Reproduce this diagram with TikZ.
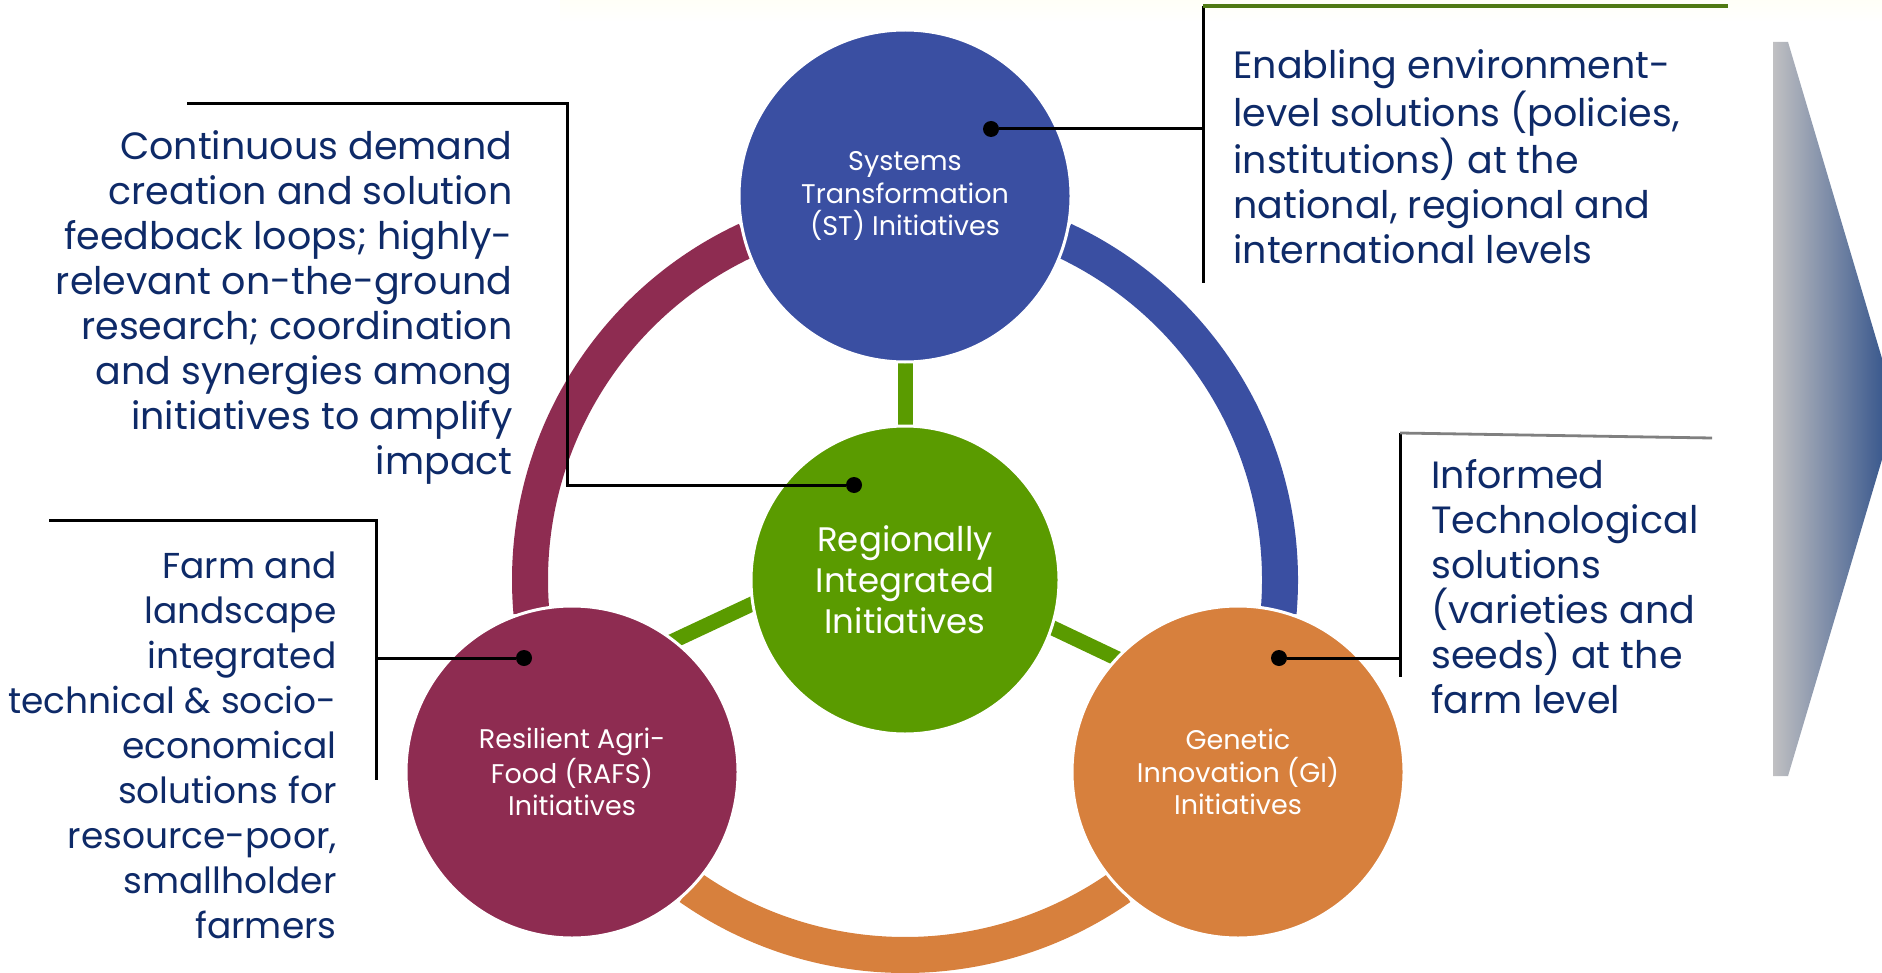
\documentclass[tikz,border=0pt]{standalone}
\usepackage{fontspec}
\setmainfont{Poppins}
\usepackage{xcolor}
\usetikzlibrary{backgrounds}
\usetikzlibrary{shapes.geometric, arrows}
\definecolor{stblue}{RGB}{58,79,162}
\definecolor{rigreen}{RGB}{90,155,0}
\definecolor{rafsred}{RGB}{142,44,81}
\definecolor{giorange}{RGB}{215,128,61}
\definecolor{navy}{RGB}{14,42,104}
\definecolor{olive}{RGB}{80,122,20}
\definecolor{arrowgrey}{RGB}{192,192,194}
\definecolor{arrowblue}{RGB}{42,76,135}
\tikzstyle{blob} = [circle, minimum size=166pt, inner sep=0pt, draw=white, line width=1.5pt, text=white, align=center, font=\fontsize{13.5}{16.2}\selectfont]
\tikzstyle{note} = [inner sep=0pt, text=navy, font=\fontsize{19}{22.5}\selectfont]
\tikzstyle{pin} = [circle, fill=black, minimum size=8pt, inner sep=0pt]
\tikzstyle{callout} = [line width=1.5pt, black]
\tikzstyle{ring} = [line width=18pt]
\tikzstyle{spoke} = [rigreen, line width=7.5pt, shorten <=-6pt, shorten >=-6pt]

\begin{document}
\begin{tikzpicture}[x=0.5pt, y=-0.5pt]
	\useasboundingbox (0,0) rectangle (1882,973);
	%faint band at the top
	\shade[top color=yellow!3, bottom color=white] (560,0) rectangle (1882,22);

	%circles
	\node[blob, fill=rigreen, minimum size=154pt, font=\fontsize{17}{20.5}\selectfont] (ri) at (905,580) {Regionally\\Integrated\\Initiatives};
	\node[blob, fill=stblue] (st) at (905,196) {Systems\\Transformation\\(ST) Initiatives};
	\node[blob, fill=rafsred] (rafs) at (572,772) {Resilient Agri-\\Food (RAFS)\\Initiatives};
	\node[blob, fill=giorange] (gi) at (1238,772) {Genetic\\Innovation (GI)\\Initiatives};

	%ring and spokes
	\begin{scope}[on background layer]
		\draw[ring, rafsred] (ri.center) ++(175:375) arc[start angle=175, end angle=245, radius=375];
		\draw[ring, stblue] (ri.center) ++(-65:375) arc[start angle=-65, end angle=5, radius=375];
		\draw[ring, giorange] (ri.center) ++(55:375) arc[start angle=55, end angle=125, radius=375];
		\draw[spoke] (ri.north) -- (st.south);
		\draw[spoke] (ri.189) -- (rafs.52);
		\draw[spoke] (ri.342) -- (gi.137);
	\end{scope}

	%ST callout
	\node[pin] (stpin) at (991,129) {};
	\coordinate (sttop) at (1203,6);
	\coordinate (stbot) at (1203,283);
	\coordinate (stend) at (1728,6);
	\draw[callout] (stpin) -- (stpin -| sttop);
	\draw[callout] (sttop) -- (stbot);
	\draw[olive, line width=1.6pt] (sttop) -- (stend);
	\node[note, anchor=north west, align=left] (sttext) at (1233,49) {Enabling environment-\\level solutions (policies,\\institutions) at the\\national, regional and\\international levels};

	%RI callout
	\node[pin] (ripin) at (854,485) {};
	\coordinate (ricorner) at (567,485);
	\coordinate (ritop) at (567,104);
	\coordinate (riend) at (187,104);
	\draw[callout] (ripin) -- (ricorner) -- (ritop) -- (riend);
	\node[note, anchor=north east, align=right] (ritext) at (513,130) {Continuous demand\\creation and solution\\feedback loops; highly-\\relevant on-the-ground\\research; coordination\\and synergies among\\initiatives to amplify\\impact};

	%RAFS callout
	\node[pin] (rafspin) at (524,658) {};
	\coordinate (rafsend) at (49,520);
	\coordinate (rafstop) at (376,520);
	\coordinate (rafsbot) at (376,780);
	\draw[callout] (rafsend) -- (rafstop) -- (rafsbot);
	\draw[callout] (rafspin) -- (rafspin -| rafstop);
	\node[note, anchor=north east, align=right, font=\fontsize{18}{22.5}\selectfont] (rafstext) at (337,551) {Farm and\\landscape\\integrated\\technical \& socio-\\economical\\solutions for\\resource-poor,\\smallholder\\farmers};

	%GI callout
	\node[pin] (gipin) at (1279,658) {};
	\coordinate (gitop) at (1400,433);
	\coordinate (gibot) at (1400,677);
	\coordinate (giend) at (1712,438);
	\draw[callout] (gipin) -- (gipin -| gitop);
	\draw[callout] (gitop) -- (gibot);
	\draw[gray, line width=1.4pt] (gitop) -- (giend);
	\node[note, anchor=north west, align=left] (gitext) at (1431,459) {Informed\\Technological\\solutions\\(varieties and\\seeds) at the\\farm level};

	%arrow
	\begin{scope}
		\clip (0,0) rectangle (1882,973);
		\shade[left color=arrowgrey, right color=arrowblue] (1773,42) -- (1788,42) -- (1897,409) -- (1788,776) -- (1773,776) -- cycle;
	\end{scope}
\end{tikzpicture}
\end{document}
